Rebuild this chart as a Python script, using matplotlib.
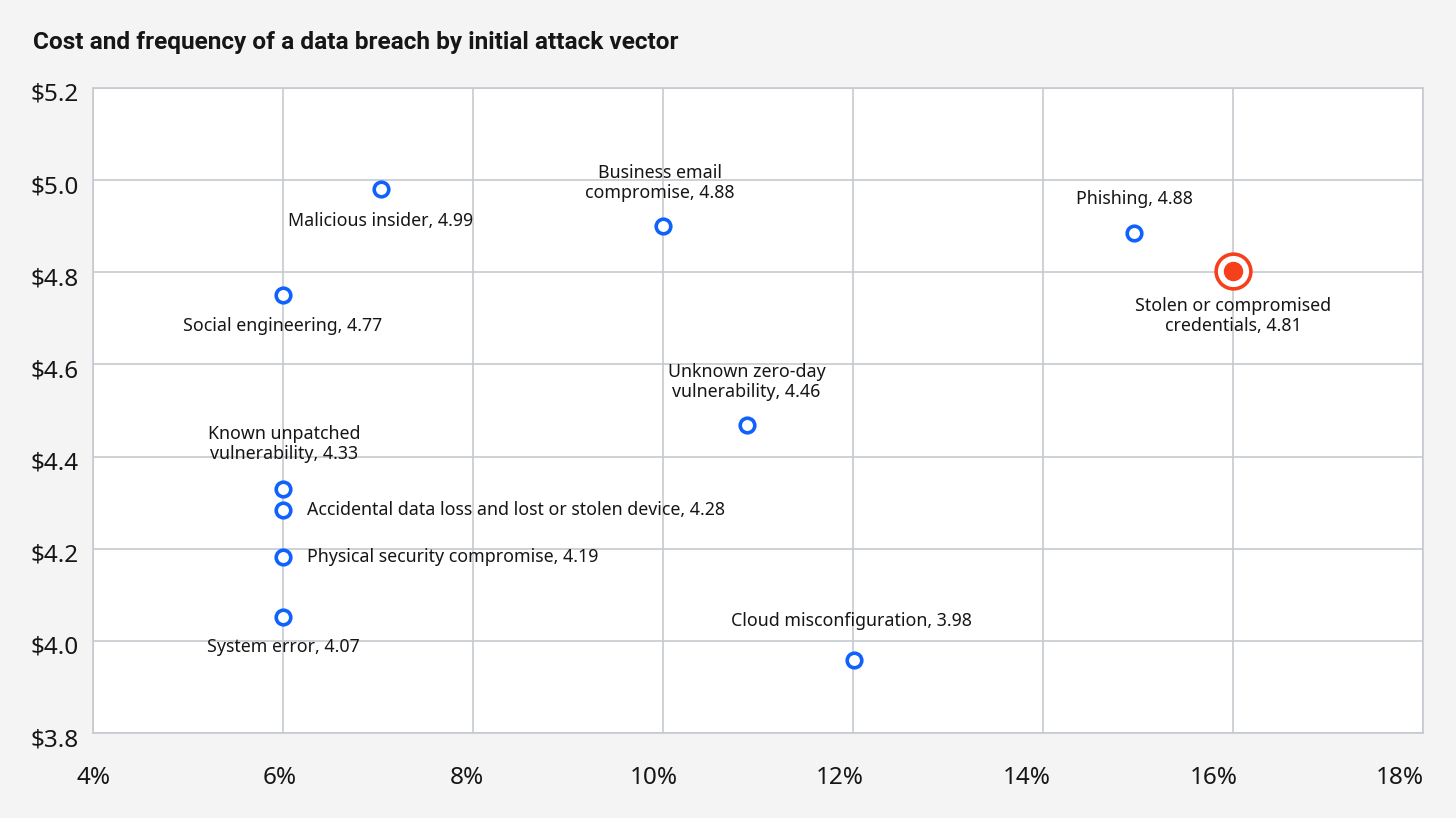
import matplotlib.pyplot as plt
import matplotlib.transforms as mtransforms

# frequency (% of breaches) and average cost (USD millions)
vectors = ['Malicious insider', 'Business email\ncompromise', 'Phishing',
           'Stolen or compromised\ncredentials', 'Social engineering',
           'Unknown zero-day\nvulnerability', 'Known unpatched\nvulnerability',
           'Accidental data loss and lost or stolen device',
           'Physical security compromise', 'System error',
           'Cloud misconfiguration']
freq = [7.03, 10.0, 14.96, 16.0, 6.0, 10.88, 6.0, 6.0, 6.0, 6.0, 12.01]
cost = [4.98, 4.90, 4.885, 4.803, 4.75, 4.468, 4.33, 4.284, 4.182, 4.052, 3.958]
cost_labels = ['4.99', '4.88', '4.88', '4.81', '4.77', '4.46', '4.33',
               '4.28', '4.19', '4.07', '3.98']
highlight = 3

x_ticks = [4, 6, 8, 10, 12, 14, 16, 18]
y_ticks = [3.8, 4.0, 4.2, 4.4, 4.6, 4.8, 5.0, 5.2]

# label offsets in pixels (dx, dy) and alignment
offsets = [(0, -32, 'center'), (-3, 43, 'center'), (0, 34, 'center'),
           (0, -45, 'center'), (0, -31, 'center'), (0, 43, 'center'),
           (1, 45, 'center'), (24, 0, 'left'), (24, 0, 'left'),
           (0, -30, 'center'), (-3, 39, 'center')]

plt.rcParams['font.family'] = ['Noto Sans', 'DejaVu Sans']

blue = '#0f62fe'
red = '#f5401b'
grid_c = '#c6c9cf'
ink = '#161616'

W, H = 1456, 818
fig = plt.figure(figsize=(W / 100, H / 100), dpi=100, facecolor='#f4f4f4')
ax = fig.add_axes([93 / W, 1 - 733 / H, (1423 - 93) / W, (733 - 88) / H])
ax.set_facecolor('white')

ax.set_xlim(4, 18)
ax.set_ylim(3.8, 5.2)
ax.set_xticks(x_ticks)
ax.set_yticks(y_ticks)
ax.set_xticklabels([])
ax.set_yticklabels([f'${t:.1f}' for t in y_ticks])
ax.tick_params(length=0, labelsize=17.5, colors=ink)
ax.tick_params(axis='y', pad=10)
shift = mtransforms.ScaledTranslation(0, -4 / 100, fig.dpi_scale_trans)
for lab in ax.get_yticklabels():
    lab.set_transform(lab.get_transform() + shift)
ax.grid(True, color=grid_c, linewidth=1.2)
ax.set_axisbelow(True)
for s in ax.spines.values():
    s.set_color(grid_c)
    s.set_linewidth(1.2)

# x tick labels sit on a slightly narrower scale than the grid
axl = fig.add_axes([93.5 / W, 1 - 733 / H, (1400 - 93.5) / W, 0.01])
axl.set_xlim(4, 18)
axl.set_xticks(x_ticks)
axl.set_xticklabels([f'{t}%' for t in x_ticks])
axl.set_yticks([])
axl.patch.set_visible(False)
for s in axl.spines.values():
    s.set_visible(False)
axl.tick_params(length=0, labelsize=17.5, colors=ink, pad=24)

for i in range(len(vectors)):
    if i == highlight:
        ax.plot(freq[i], cost[i], 'o', ms=25, mfc='white', mec=red, mew=2.6, zorder=3)
        ax.plot(freq[i], cost[i], 'o', ms=13, mfc=red, mec=red, zorder=4)
    else:
        ax.plot(freq[i], cost[i], 'o', ms=10.5, mfc='white', mec=blue, mew=2.6, zorder=3)
    dx, dy, ha = offsets[i]
    ax.annotate(vectors[i] + ', ' + cost_labels[i], (freq[i], cost[i]),
                xytext=(dx, dy), textcoords='offset pixels',
                ha=ha, va='center', fontsize=12.8, color=ink,
                multialignment='center', linespacing=1.15)

fig.text(33 / W, 1 - 43 / H, 'Cost and frequency of a data breach by initial attack vector',
         fontsize=17.6, fontweight='bold', va='center', ha='left', color=ink,
         family=['Roboto', 'DejaVu Sans'])

fig.savefig('out.png', dpi=100, facecolor=fig.get_facecolor())
